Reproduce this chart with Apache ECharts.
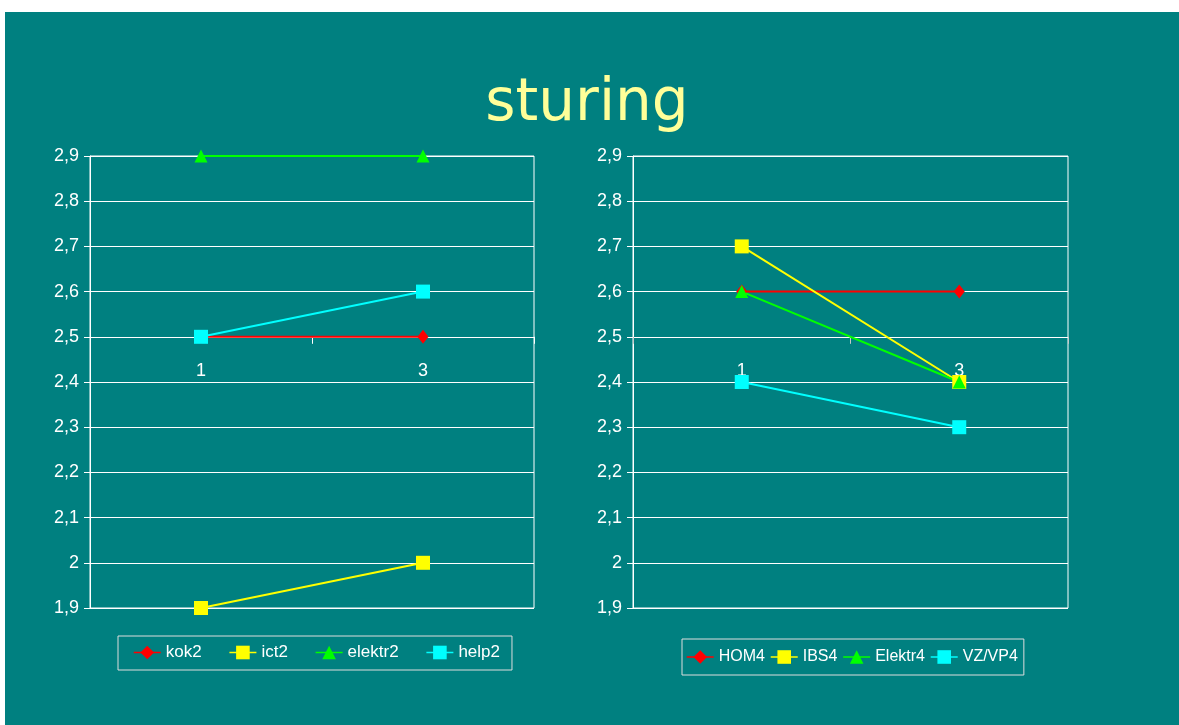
<!DOCTYPE html>
<html>
<head>
<meta charset="utf-8">
<script src="https://cdn.jsdelivr.net/npm/echarts@6/dist/echarts.min.js"></script>
<style>
  html, body { margin: 0; padding: 0; background: #ffffff; }
  #chart { position: absolute; left: 5px; top: 12px; width: 1174px; height: 713px; }
</style>
</head>
<body>
<div id="chart"></div>
<script>
// Category labels shared by both panels
const categories = ['1', '3'];

// Left panel series
const kok2 = [2.5, 2.5];
const ict2 = [1.9, 2.0];
const elektr2 = [2.9, 2.9];
const help2 = [2.5, 2.6];

// Right panel series
const hom4 = [2.6, 2.6];
const ibs4 = [2.7, 2.4];
const elektr4 = [2.6, 2.4];
const vzvp4 = [2.4, 2.3];

// Value axis range; the category axis crosses at 2.5
const yMin = 1.9;
const yMax = 2.9;
const yStep = 0.1;
const crossAt = 2.5;

const plotHeight = 452;
const axisOffset = -((crossAt - yMin) / (yMax - yMin)) * plotHeight;

const RED = '#ff0000', YELLOW = '#ffff00', GREEN = '#00ff00', CYAN = '#00ffff';
const FONT = '"Liberation Sans", Arial, sans-serif';

function fmt(v) {
  const r = Math.round(v * 10) / 10;
  return String(r).replace('.', ',');
}

function yAxisFor(gridIndex) {
  return {
    type: 'value', gridIndex: gridIndex,
    min: yMin, max: yMax, interval: yStep,
    axisLine: { show: true, lineStyle: { color: '#ffffff', width: 1 } },
    axisTick: { show: true, length: 6, lineStyle: { color: '#ffffff' } },
    axisLabel: { color: '#ffffff', fontSize: 18, fontFamily: FONT, margin: 11, formatter: fmt },
    splitLine: { show: true, lineStyle: { color: '#ffffff', width: 1 } }
  };
}

function xAxisFor(gridIndex, tickColor) {
  return {
    type: 'category', gridIndex: gridIndex, data: categories,
    boundaryGap: true, position: 'bottom', offset: axisOffset,
    axisLine: { show: true, onZero: false, lineStyle: { color: '#ffffff', width: 1 } },
    axisTick: { show: true, length: 7, alignWithLabel: false, lineStyle: { color: tickColor } },
    axisLabel: { color: '#ffffff', fontSize: 18, fontFamily: FONT, margin: 25 },
    splitLine: { show: false }
  };
}

const markers = {
  diamond: { symbol: 'diamond', symbolSize: [11, 14] },
  square: { symbol: 'rect', symbolSize: 14 },
  triangle: { symbol: 'triangle', symbolSize: 13 }
};

function lineSeries(name, data, color, marker, idx) {
  return {
    type: 'line', name: name, data: data,
    xAxisIndex: idx, yAxisIndex: idx,
    symbol: markers[marker].symbol, symbolSize: markers[marker].symbolSize,
    showSymbol: true, clip: false, animation: false,
    lineStyle: { color: color, width: 2 },
    itemStyle: { color: color, borderWidth: 0 }
  };
}

const chart = echarts.init(document.getElementById('chart'), null, { renderer: 'canvas' });

chart.setOption({
  backgroundColor: '#008080',
  animation: false,
  graphic: [{
    type: 'text',
    x: 582, y: 93,
    style: {
      text: 'sturing', fill: '#ffff99',
      font: 'normal 58px "DejaVu Sans", sans-serif',
      align: 'center', verticalAlign: 'middle'
    }
  }],
  grid: [
    { left: 85, top: 144, width: 444, height: plotHeight, show: true, borderColor: '#ffffff', borderWidth: 1, backgroundColor: 'transparent' },
    { left: 628, top: 144, width: 435, height: plotHeight, show: true, borderColor: '#ffffff', borderWidth: 1, backgroundColor: 'transparent' }
  ],
  xAxis: [xAxisFor(0, '#ffffff'), xAxisFor(1, '#c8c8c8')],
  yAxis: [yAxisFor(0), yAxisFor(1)],
  legend: [
    {
      data: ['kok2', 'ict2', 'elektr2', 'help2'],
      left: 113, top: 624, orient: 'horizontal',
      padding: [8, 12, 9, 15], itemGap: 27, itemWidth: 27, itemHeight: 17,
      lineStyle: { width: 1.5 },
      borderColor: '#dddddd', borderWidth: 1,
      textStyle: { color: '#ffffff', fontSize: 17, fontFamily: FONT },
      inactiveColor: '#888'
    },
    {
      data: ['HOM4', 'IBS4', 'Elektr4', 'VZ/VP4'],
      left: 677, top: 627, orient: 'horizontal',
      padding: [10, 6, 10, 4], itemGap: 5, itemWidth: 27, itemHeight: 17,
      lineStyle: { width: 1.5 },
      borderColor: '#dddddd', borderWidth: 1,
      textStyle: { color: '#ffffff', fontSize: 16, fontFamily: FONT },
      inactiveColor: '#888'
    }
  ],
  series: [
    lineSeries('kok2', kok2, RED, 'diamond', 0),
    lineSeries('ict2', ict2, YELLOW, 'square', 0),
    lineSeries('elektr2', elektr2, GREEN, 'triangle', 0),
    lineSeries('help2', help2, CYAN, 'square', 0),
    lineSeries('HOM4', hom4, RED, 'diamond', 1),
    lineSeries('IBS4', ibs4, YELLOW, 'square', 1),
    lineSeries('Elektr4', elektr4, GREEN, 'triangle', 1),
    lineSeries('VZ/VP4', vzvp4, CYAN, 'square', 1)
  ]
});
</script>
</body>
</html>
